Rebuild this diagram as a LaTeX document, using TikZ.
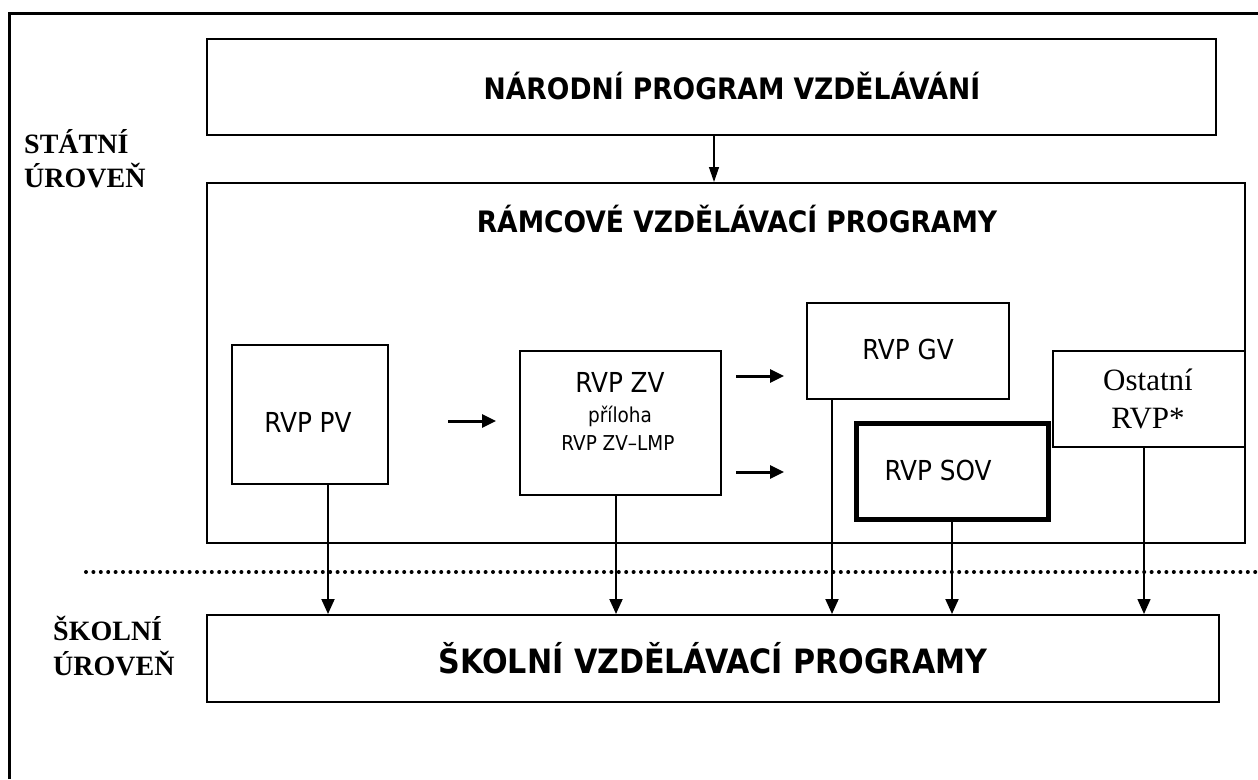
\documentclass[tikz,border=0pt]{standalone}
\usepackage{fontspec}
\usetikzlibrary{arrows.meta}
\newfontfamily\dv{DejaVu Sans Condensed}
\newfontfamily\tnr{Liberation Serif}
\begin{document}
\begin{tikzpicture}[x=1pt,y=-1pt,
  box/.style={draw=black,line width=2pt,inner sep=0pt,fill=white},
  thickbox/.style={draw=black,line width=5pt,inner sep=0pt,fill=white},
  thinbox/.style={draw=black,line width=1.5pt,inner sep=0pt,fill=white},
  btxt/.style={anchor=base,inner sep=0pt,font=\dv\bfseries\fontsize{29.5pt}{32pt}\selectfont},
  bigtxt/.style={anchor=base,inner sep=0pt,font=\dv\bfseries\fontsize{33.5pt}{36pt}\selectfont},
  rtxt/.style={anchor=base,inner sep=0pt,font=\dv\fontsize{27.5pt}{30pt}\selectfont},
  stxt/.style={anchor=base,inner sep=0pt,font=\dv\fontsize{20.5pt}{22pt}\selectfont},
  ttxt/.style={anchor=base,inner sep=0pt,font=\tnr\fontsize{31pt}{34pt}\selectfont},
  lvl/.style={anchor=base west,inner sep=0pt,font=\tnr\bfseries\fontsize{28pt}{32pt}\selectfont},
  varrow/.style={line width=2pt,-{Triangle[length=15pt,width=13pt]}},
  harrow/.style={line width=3pt,-{Triangle[length=14pt,width=13pt]}},
  narrow/.style={line width=1.3pt,-{Triangle[length=15pt,width=10pt]}}]
\useasboundingbox (0,0) rectangle (1258,779);
\fill[white] (0,0) rectangle (1258,779);
% outer frame (top and left only)
\draw[line width=3pt] (9,779) -- (9,13) -- (1258,13);
% dotted separator
\draw[line width=4pt,line cap=round,dash pattern=on 0pt off 7.4pt] (86,572) -- (1258,572);
% boxes
\node[box,minimum width=1009pt,minimum height=96pt] (npv) at (711.5,87) {};
\node[box,minimum width=1038pt,minimum height=360pt] (rvp) at (726,363) {};
\node[box,minimum width=156pt,minimum height=139pt] (pv) at (310,414.5) {};
\node[box,minimum width=201pt,minimum height=144pt] (zv) at (620,423) {};
\node[box,minimum width=202pt,minimum height=96pt] (gv) at (908,351) {};
\node[thickbox,minimum width=192pt,minimum height=96pt] (sov) at (952,471.5) {};
\node[thinbox,minimum width=192pt,minimum height=96pt] (ost) at (1149,399) {};
\node[box,minimum width=1012pt,minimum height=87pt] (svp) at (713,658.5) {};
% texts
\node[btxt] (tnpv) at (732,99) {NÁRODNÍ PROGRAM VZDĚLÁVÁNÍ};
\node[btxt] (trvp) at (737,232) {RÁMCOVÉ VZDĚLÁVACÍ PROGRAMY};
\node[bigtxt] (tsvp) at (713,673) {ŠKOLNÍ VZDĚLÁVACÍ PROGRAMY};
\node[rtxt] (tpv) at (308,432) {RVP PV};
\node[rtxt] (tzv) at (620,392) {RVP ZV};
\node[stxt] (tpril) at (620,422) {příloha};
\node[stxt] (tlmp) at (618,450) {RVP ZV–LMP};
\node[rtxt] (tgv) at (908,359) {RVP GV};
\node[rtxt] (tsov) at (938,480) {RVP SOV};
\node[ttxt] (tost1) at (1148,390) {Ostatní};
\node[ttxt] (tost2) at (1148,428) {RVP*};
\node[lvl] (st1) at (24,153) {STÁTNÍ};
\node[lvl] (st2) at (24,187) {ÚROVEŇ};
\node[lvl] (sk1) at (53,640) {ŠKOLNÍ};
\node[lvl] (sk2) at (53,675) {ÚROVEŇ};
% connectors
\coordinate (xn) at (714,0);
\draw[narrow] (xn |- npv.south) -- (xn |- rvp.north);
\coordinate (h1s) at (448,421); \coordinate (h1e) at (496,421);
\coordinate (h2s) at (736,376); \coordinate (h2e) at (784,376);
\coordinate (h3s) at (736,472); \coordinate (h3e) at (784,472);
\draw[harrow] (h1s) -- (h1e);
\draw[harrow] (h2s) -- (h2e);
\draw[harrow] (h3s) -- (h3e);
\coordinate (xpv) at (328,0);
\coordinate (xzv) at (616,0);
\coordinate (xgv) at (832,0);
\coordinate (xsov) at (952,0);
\coordinate (xost) at (1144,0);
\draw[varrow] (xpv |- pv.south) -- (xpv |- svp.north);
\draw[varrow] (xzv |- zv.south) -- (xzv |- svp.north);
\draw[varrow] (xgv |- gv.south) -- (xgv |- svp.north);
\draw[varrow] (xsov |- sov.south) -- (xsov |- svp.north);
\draw[varrow,line width=1.5pt] (xost |- ost.south) -- (xost |- svp.north);
\end{tikzpicture}
\end{document}
